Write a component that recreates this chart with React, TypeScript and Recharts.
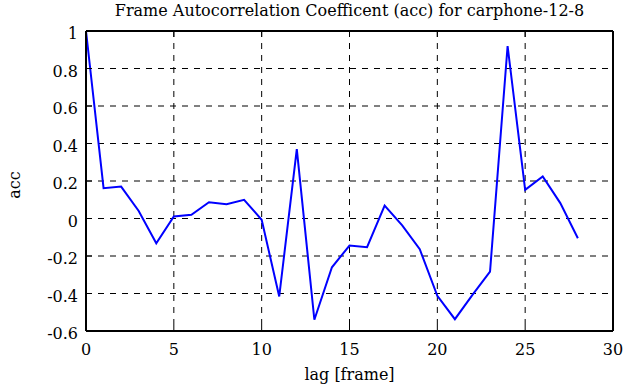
import React from "react";
import { LineChart, Line, XAxis, YAxis, CartesianGrid } from "recharts";

const lags = [0, 1, 2, 3, 4, 5, 6, 7, 8, 9, 10, 11, 12, 13, 14, 15, 16, 17, 18, 19, 20, 21, 22, 23, 24, 25, 26, 27, 28];
const accValues = [1.0, 0.162, 0.17, 0.04, -0.132, 0.011, 0.02, 0.087, 0.076, 0.1, -0.007, -0.416, 0.37, -0.54, -0.26, -0.144, -0.153, 0.069, -0.037, -0.164, -0.412, -0.537, -0.407, -0.283, 0.92, 0.153, 0.224, 0.082, -0.105];
const xTicks = [0, 5, 10, 15, 20, 25, 30];
const yTicks = [-0.6, -0.4, -0.2, 0, 0.2, 0.4, 0.6, 0.8, 1];
const titleText = "Frame Autocorrelation Coefficent (acc) for carphone-12-8";
const xLabel = "lag [frame]";
const yLabel = "acc";

const data = lags.map((l, i) => ({ lag: l, acc: accValues[i] }));

const FONT = "'DejaVu Serif', 'Liberation Serif', serif";
const FS = 16;
const TICK = 6;

const fmtY = (v: number) => {
  const r = Math.round(v * 10) / 10;
  return r === 0 ? "0" : String(r);
};

const LeftTick = (props: any) => {
  const { x, y, payload } = props;
  const ax = x + 8;
  return (
    <g>
      <line x1={ax} x2={ax + TICK} y1={y} y2={y} stroke="#000" strokeWidth={1} />
      <text x={x} y={y + 8} textAnchor="end" style={{ fontFamily: FONT, fontSize: FS }} fill="#000">
        {fmtY(payload.value)}
      </text>
    </g>
  );
};

const RightTick = (props: any) => {
  const { x, y } = props;
  return <line x1={x} x2={x - TICK} y1={y} y2={y} stroke="#000" strokeWidth={1} />;
};

const BottomTick = (props: any) => {
  const { x, y, payload } = props;
  return (
    <g>
      <line x1={x} x2={x} y1={y} y2={y - TICK} stroke="#000" strokeWidth={1} />
      <text x={x} y={y + 24} textAnchor="middle" style={{ fontFamily: FONT, fontSize: FS }} fill="#000">
        {payload.value}
      </text>
    </g>
  );
};

const TopTick = (props: any) => {
  const { x, y } = props;
  return <line x1={x} x2={x} y1={y} y2={y + TICK} stroke="#000" strokeWidth={1} />;
};

export default function App() {
  return (
    <div style={{ position: "absolute", left: 0, top: 0, width: 641, height: 387, background: "#fff" }}>
      <LineChart
        width={641}
        height={387}
        data={data}
        margin={{ top: 30, right: 27, bottom: 55, left: 85 }}
      >
        <CartesianGrid
          xAxisId="b"
          yAxisId="l"
          stroke="#000"
          strokeDasharray="6 6"
          strokeWidth={1}
        />
        <XAxis
          xAxisId="b"
          dataKey="lag"
          type="number"
          domain={[0, 30]}
          ticks={xTicks}
          height={1}
          tickSize={0}
          tickMargin={0}
          axisLine={{ stroke: "#000", strokeWidth: 2 }}
          tick={<BottomTick />}
          interval={0}
        />
        <XAxis
          xAxisId="t"
          orientation="top"
          dataKey="lag"
          type="number"
          domain={[0, 30]}
          ticks={xTicks}
          height={1}
          tickSize={0}
          tickMargin={0}
          axisLine={{ stroke: "#000", strokeWidth: 2 }}
          tick={<TopTick />}
          interval={0}
        />
        <YAxis
          yAxisId="l"
          type="number"
          domain={[-0.6, 1]}
          ticks={yTicks}
          width={1}
          tickSize={0}
          tickMargin={8}
          axisLine={{ stroke: "#000", strokeWidth: 2 }}
          tick={<LeftTick />}
          interval={0}
        />
        <YAxis
          yAxisId="r"
          orientation="right"
          type="number"
          domain={[-0.6, 1]}
          ticks={yTicks}
          width={1}
          tickSize={0}
          tickMargin={0}
          axisLine={{ stroke: "#000", strokeWidth: 2 }}
          tick={<RightTick />}
          interval={0}
        />
        <Line
          xAxisId="b"
          yAxisId="l"
          dataKey="acc"
          type="linear"
          stroke="#0000ff"
          strokeWidth={2}
          dot={false}
          isAnimationActive={false}
        />
      </LineChart>
      <div
        style={{
          position: "absolute",
          left: 86,
          width: 527,
          top: 1,
          textAlign: "center",
          fontFamily: FONT,
          fontSize: FS,
          lineHeight: "20px",
          color: "#000",
          whiteSpace: "nowrap",
        }}
      >
        {titleText}
      </div>
      <div
        style={{
          position: "absolute",
          left: 86,
          width: 527,
          top: 365,
          textAlign: "center",
          fontFamily: FONT,
          fontSize: FS,
          lineHeight: "20px",
          color: "#000",
        }}
      >
        {xLabel}
      </div>
      <div
        style={{
          position: "absolute",
          left: 15,
          top: 185,
          transform: "translate(-50%, -50%) rotate(-90deg)",
          fontFamily: FONT,
          fontSize: FS,
          lineHeight: "20px",
          color: "#000",
        }}
      >
        {yLabel}
      </div>
    </div>
  );
}
